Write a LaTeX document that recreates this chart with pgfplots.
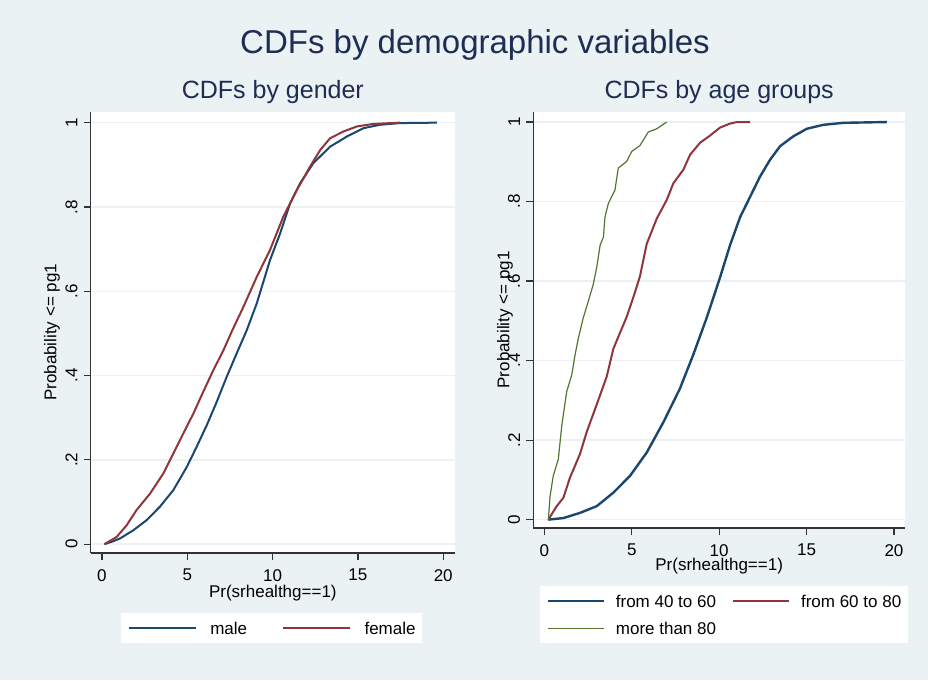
\documentclass[border=0pt]{standalone}
\usepackage{fontspec}
\setmainfont{Liberation Sans}
\usepackage{pgfplots}
\pgfplotsset{compat=1.18}

\definecolor{bgc}{RGB}{234,242,243}
\definecolor{titc}{RGB}{30,45,83}
\definecolor{navy}{RGB}{26,71,111}
\definecolor{maroon}{RGB}{144,53,59}
\definecolor{forest}{RGB}{85,117,47}

% CDF values
\pgfplotstableread{
x y
0.14 0
0.6 0.006
1.06 0.0135
1.84 0.033
2.62 0.057
3.40 0.089
4.18 0.128
4.97 0.183
5.55 0.231
6.14 0.282
6.73 0.338
7.31 0.397
7.90 0.453
8.49 0.508
9.07 0.571
9.85 0.674
10.44 0.737
11.03 0.809
11.61 0.856
12.39 0.904
13.37 0.943
14.35 0.967
15.33 0.987
16.3 0.995
17.48 0.999
19.63 1.0
}\male
\pgfplotstableread{
x y
0.14 0
0.86 0.017
1.45 0.045
2.03 0.081
2.82 0.12
3.6 0.168
4.18 0.215
4.77 0.263
5.36 0.31
5.94 0.362
6.53 0.413
7.12 0.46
7.6 0.504
8.29 0.563
9.07 0.634
9.85 0.698
10.63 0.777
11.42 0.84
12.2 0.896
12.79 0.935
13.37 0.963
14.15 0.979
14.94 0.991
15.9 0.997
17.48 1.0
}\female
\pgfplotstableread{
x y
0.23 0
1.09 0.004
2.04 0.017
3.0 0.034
3.95 0.068
4.9 0.11
5.86 0.169
6.81 0.245
7.76 0.33
8.52 0.415
9.29 0.508
10.05 0.609
10.62 0.69
11.2 0.761
11.77 0.812
12.34 0.863
12.91 0.905
13.48 0.939
14.24 0.964
15.01 0.983
15.96 0.993
17.1 0.998
19.59 1.0
}\agea
\pgfplotstableread{
x y
0.23 0
0.71 0.034
1.09 0.055
1.47 0.106
2.04 0.165
2.42 0.22
3.0 0.29
3.57 0.36
3.95 0.43
4.71 0.51
5.09 0.559
5.47 0.612
5.86 0.694
6.43 0.757
7.0 0.804
7.38 0.846
7.95 0.88
8.34 0.918
8.91 0.948
9.48 0.966
10.05 0.986
10.62 0.996
11.01 1.0
11.77 1.0
}\ageb
\pgfplotstableread{
x y
0.23 0
0.33 0.059
0.51 0.11
0.8 0.152
1.0 0.237
1.28 0.322
1.57 0.364
1.76 0.415
1.95 0.457
2.23 0.508
2.52 0.55
2.8 0.592
3.0 0.635
3.19 0.69
3.38 0.711
3.47 0.761
3.66 0.795
4.04 0.829
4.23 0.884
4.71 0.901
5.0 0.926
5.47 0.941
5.95 0.975
6.43 0.983
7.0 1.0
}\agec

\pgfplotsset{
  stata/.style={
    scale only axis,
    anchor=south west,
    axis x line*=bottom, axis y line*=left,
    axis line style={line width=1.2pt, black!80},
    axis background/.style={fill=white},
    tick align=outside,
    major tick length=7pt,
    every tick/.style={line width=1.2pt, black!80},
    ytick={0,0.2,0.4,0.6,0.8,1}, yticklabels={0,.2,.4,.6,.8,1},
    xtick={0,5,10,15,20}, xticklabels={0,5,10,15,20},
    ymin=-0.021, ymax=1.026,
    ymajorgrids, major grid style={line width=1.5pt, bgc},
    tick label style={font=\fontsize{17}{20}\selectfont, inner sep=0pt},
    yticklabel style={rotate=90, anchor=south},
    xticklabel style={anchor=north},
    xticklabel shift=9pt, yticklabel shift=6pt,
    label style={font=\fontsize{17}{20}\selectfont},
    xlabel={Pr(srhealthg==1)},
    ylabel={Probability <= pg1},
    title style={font=\fontsize{25}{28}\selectfont, text=titc, anchor=base,
      at={(axis description cs:0.5,1)}, yshift=6.7pt},
    legend cell align=left,
    legend style={draw=none, fill=white, inner xsep=6.7pt,
      font=\fontsize{17}{20}\selectfont,
      nodes={inner sep=0pt, text depth=0pt}},
    legend image post style={line width=1.4pt},
    every axis plot/.append style={line join=round},
  }
}

\begin{document}
\begin{tikzpicture}
\fill[bgc] (0pt,0pt) rectangle (928pt,680pt);
\path[use as bounding box] (0pt,0pt) rectangle (928pt,680pt);
\node[font=\fontsize{33}{36}\selectfont, text=titc, anchor=base] at (475pt,626.7pt) {CDFs by demographic variables};

\begin{axis}[stata,
  at={(90.7pt,127pt)}, width=364.3pt, height=441.3pt,
  xmin=-0.66, xmax=20.69,
  title={CDFs by gender},
  xlabel style={at={(axis description cs:0.5,-0.0906)}, anchor=center},
  ylabel style={at={(axis description cs:-0.1062,0.5)}, anchor=center},
  legend columns=2,
  legend style={at={(0.0832,-0.136)}, anchor=north west, inner ysep=8.8pt,
    column sep=14pt, /tikz/every even column/.append style={column sep=35pt}},
  legend image code/.code={\draw[#1] (0pt,0pt) -- (67pt,0pt);},
]
\addplot[navy, line width=2pt] table {\male};
\addlegendentry{male}
\addplot[maroon, line width=2pt] table {\female};
\addlegendentry{female}
\end{axis}

\begin{axis}[stata,
  at={(533.3pt,152pt)}, width=371.7pt, height=416.3pt,
  xmin=-0.63, xmax=20.63,
  title={CDFs by age groups},
  xlabel style={at={(axis description cs:0.5,-0.0913)}, anchor=center},
  ylabel style={at={(axis description cs:-0.0761,0.5)}, anchor=center},
  legend columns=2,
  legend style={at={(0.018,-0.1393)}, anchor=north west, inner ysep=8.65pt,
    column sep=11.6pt, row sep=14.9pt,
    /tikz/every even column/.append style={column sep=16pt}},
  legend image code/.code={\draw[#1] (0pt,0pt) -- (56pt,0pt);},
]
\addplot[navy, line width=2.4pt] table {\agea};
\addlegendentry{from 40 to 60}
\addplot[maroon, line width=2pt] table {\ageb};
\addlegendentry{from 60 to 80}
\addplot[forest, line width=1.2pt] table {\agec};
\addlegendentry{more than 80}
\end{axis}
\end{tikzpicture}
\end{document}
